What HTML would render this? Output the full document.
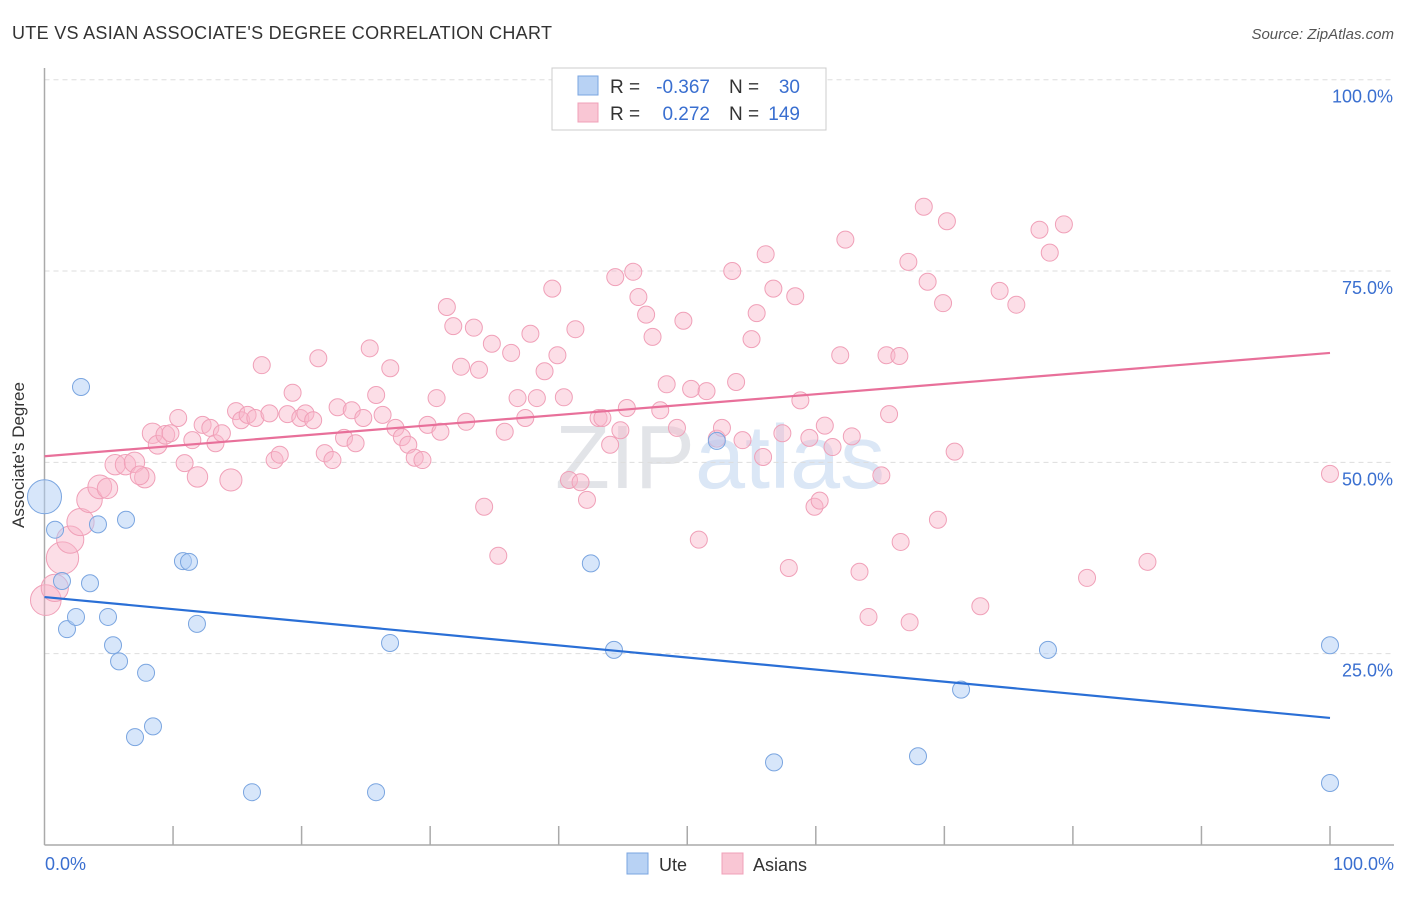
<!DOCTYPE html>
<html><head><meta charset="utf-8">
<style>
body{margin:0;background:#fff;font-family:"Liberation Sans",sans-serif;}
svg text{font-family:"Liberation Sans",sans-serif;}
</style></head>
<body>
<svg id="chart" width="1406" height="892" xmlns="http://www.w3.org/2000/svg">
<text x="12" y="39" font-size="18" fill="#333" letter-spacing="0.3">UTE VS ASIAN ASSOCIATE'S DEGREE CORRELATION CHART</text>
<text x="1394" y="39" font-size="15" fill="#555" font-style="italic" text-anchor="end">Source: ZipAtlas.com</text>
<text x="720" y="488" font-size="90" fill="#e4e8ee" text-anchor="middle" font-family="Liberation Serif"><tspan fill="#e2e4e8">ZIP</tspan><tspan fill="#dbe7f6" font-family="Liberation Sans">atlas</tspan></text>
<g id="grid"></g>
<line x1="44.5" y1="68" x2="44.5" y2="845" stroke="#aaa" stroke-width="1.5"/>
<line x1="44.5" y1="845" x2="1394" y2="845" stroke="#aaa" stroke-width="1.5"/>
<text x="24" y="455" font-size="17" fill="#333" text-anchor="middle" transform="rotate(-90 24 455)">Associate's Degree</text>
<text x="45" y="870" font-size="18" fill="#3a6fd0">0.0%</text>
<text x="1394" y="870" font-size="18" fill="#3a6fd0" text-anchor="end">100.0%</text>
<g id="pts"></g>
<g id="lines"></g>
<g>
<rect x="552" y="68" width="274" height="62" fill="#fff" stroke="#ccc"/>
<rect x="578" y="76" width="20" height="19" fill="#b8d2f4" stroke="#7aa5e0"/>
<rect x="578" y="103" width="20" height="19" fill="#f9c6d4" stroke="#f0a0b8"/>
<text x="610" y="93" font-size="19" fill="#333">R = </text>
<text x="710" y="93" font-size="19" fill="#3a6fd0" text-anchor="end">-0.367</text>
<text x="729" y="93" font-size="19" fill="#333">N = </text>
<text x="800" y="93" font-size="19" fill="#3a6fd0" text-anchor="end">30</text>
<text x="610" y="120" font-size="19" fill="#333">R = </text>
<text x="710" y="120" font-size="19" fill="#3a6fd0" text-anchor="end">0.272</text>
<text x="729" y="120" font-size="19" fill="#333">N = </text>
<text x="800" y="120" font-size="19" fill="#3a6fd0" text-anchor="end">149</text>
</g>
<g>
<rect x="627" y="853" width="21" height="21" fill="#b8d2f4" stroke="#7aa5e0"/>
<text x="659" y="871" font-size="18" fill="#333">Ute</text>
<rect x="722" y="853" width="21" height="21" fill="#f9c6d4" stroke="#f0a0b8"/>
<text x="753" y="871" font-size="18" fill="#333">Asians</text>
</g>
</svg>
<script>
const yTicks=[25,50,75,100];
const yTickLabels=["25.0%","50.0%","75.0%","100.0%"];
const xTicks=[10,20,30,40,50,60,70,80,90,100];
const uteX=[2.84,0,0.82,1.36,4.16,6.34,3.54,1.75,2.45,4.94,5.33,5.8,7.9,10.77,11.24,11.86,7.04,8.44,16.14,25.79,26.88,42.5,44.3,52.3,56.75,67.95,71.3,78.06,100,100];
const uteY=[59.85,45.5,41.2,34.5,41.9,42.5,34.2,28.2,29.8,29.8,26.1,24.0,22.5,37.1,37.0,28.9,14.1,15.5,6.9,6.9,26.4,36.8,25.5,52.8,10.8,11.6,20.3,25.5,26.1,8.1];
const uteW=[1,2,1,1,1,1,1,1,1,1,1,1,1,1,1,1,1,1,1,1,1,1,1,1,1,1,1,1,1,1];
const asiX=[0.1,0.8,1.4,2.0,2.8,3.5,4.3,4.9,5.5,6.3,7.0,7.8,7.4,8.4,8.8,9.4,9.8,10.4,10.9,11.5,11.9,12.3,12.9,13.3,13.8,14.5,14.9,15.3,15.8,16.4,16.9,17.5,17.9,18.3,19.3,18.9,19.9,20.3,20.9,21.3,21.8,22.4,22.8,23.3,23.9,24.2,24.8,25.3,25.8,26.3,26.9,27.3,27.8,28.3,28.8,29.4,29.8,30.5,30.8,31.3,31.8,32.4,32.8,33.4,33.8,34.2,34.8,35.3,35.8,36.3,36.8,37.4,37.8,38.3,38.9,39.5,39.9,40.4,40.8,41.3,41.7,42.2,43.1,43.4,44.0,44.4,44.8,45.3,45.8,46.2,46.8,47.3,47.9,48.4,49.2,49.7,50.3,50.9,51.5,52.3,52.7,53.5,53.8,54.3,55.0,55.4,55.9,56.1,56.7,57.4,57.9,58.4,58.8,59.5,59.9,60.3,60.7,61.3,61.9,62.3,62.8,63.4,64.1,65.1,65.5,65.7,66.5,66.6,67.3,67.2,68.4,68.7,69.5,69.9,70.2,70.8,72.8,74.3,75.6,77.4,78.2,79.3,81.1,85.8,100];
const asiY=[32.0,33.6,37.5,39.9,42.2,45.1,46.8,46.6,49.7,49.7,50.0,48.0,48.3,53.8,52.3,53.6,53.8,55.8,49.9,52.9,48.1,54.9,54.5,52.5,53.8,47.7,56.7,55.5,56.2,55.8,62.7,56.4,50.3,51.0,59.1,56.3,55.8,56.4,55.5,63.6,51.2,50.3,57.2,53.2,56.8,52.5,55.8,64.9,58.8,56.2,62.3,54.5,53.3,52.3,50.6,50.3,54.9,58.4,54.0,70.3,67.8,62.5,55.3,67.6,62.1,44.2,65.5,37.8,54.0,64.3,58.4,55.8,66.8,58.4,61.9,72.7,64.0,58.5,47.7,67.4,47.4,45.1,55.8,55.8,52.3,74.2,54.2,57.1,74.9,71.6,69.3,66.4,56.8,60.2,54.5,68.5,59.6,39.9,59.3,53.1,54.5,75.0,60.5,52.9,66.1,69.5,50.7,77.2,72.7,53.8,36.2,71.7,58.1,53.2,44.2,45.0,54.8,52.0,64.0,79.1,53.4,35.7,29.8,48.3,64.0,56.3,63.9,39.6,29.1,76.2,83.4,73.6,42.5,70.8,81.5,51.4,31.2,72.4,70.6,80.4,77.4,81.1,34.9,37.0,48.5];
const asiW=[1.8,1.6,1.9,1.6,1.6,1.5,1.4,1.2,1.2,1.2,1.2,1.2,1.1,1.2,1.1,1.1,1,1,1,1,1.2,1,1,1,1,1.3];
const uteTrend=[32.4,16.6];
const asiTrend=[50.8,64.3];
const NS='http://www.w3.org/2000/svg';
function sx(v){return 44.5+v*12.855;}
function sy(v){return 845-v*7.653;}
function mk(tag,attrs,parent){const e=document.createElementNS(NS,tag);for(const k in attrs)e.setAttribute(k,attrs[k]);parent.appendChild(e);return e;}
const grid=document.getElementById('grid');
yTicks.forEach((t,i)=>{
 const l=mk('line',{x1:44.5,x2:1394,y1:sy(t),y2:sy(t),stroke:'#ddd','stroke-dasharray':'5,4'},grid);
 
 
 const tx=mk('text',{x:1393,y:sy(t)+23,'font-size':18,fill:'#3a6fd0','text-anchor':'end'},grid);
 tx.textContent=yTickLabels[i];
 
 
});
xTicks.forEach(t=>{
 const l=mk('line',{x1:sx(t),x2:sx(t),y1:826,y2:845,stroke:'#aaa','stroke-width':1.5},grid);
 
 
});
const pts=document.getElementById('pts');
asiX.forEach((x,i)=>{
 const w=asiW[i]||1;
 const c=mk('circle',{cx:sx(x),cy:sy(asiY[i]),r:8.5*w,fill:'rgba(248,182,202,0.45)',stroke:'#f0a0b8','stroke-width':1},pts);
 
 
});
uteX.forEach((x,i)=>{
 const c=mk('circle',{cx:sx(x),cy:sy(uteY[i]),r:8.5*uteW[i],fill:'rgba(175,205,245,0.5)',stroke:'#7aa5e0','stroke-width':1},pts);
 
 
});
const lines=document.getElementById('lines');
const la=mk('line',{x1:sx(0),x2:sx(100),y1:sy(asiTrend[0]),y2:sy(asiTrend[1]),stroke:'#e8709a','stroke-width':2.2},lines);


const lu=mk('line',{x1:sx(0),x2:sx(100),y1:sy(uteTrend[0]),y2:sy(uteTrend[1]),stroke:'#2a6fd6','stroke-width':2.2},lines);


</script>
</body></html>
